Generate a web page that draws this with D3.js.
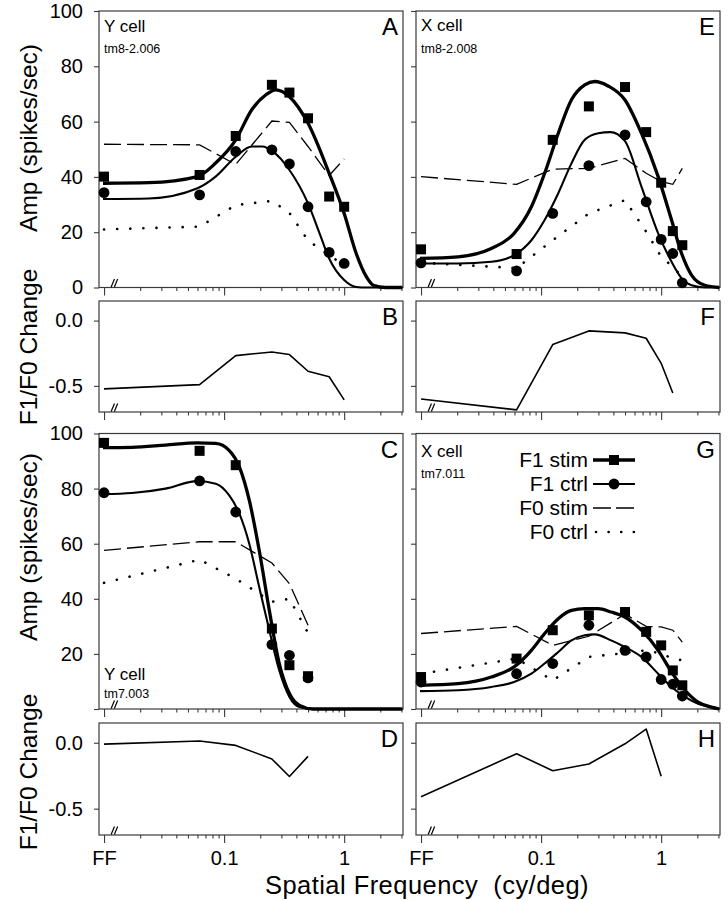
<!DOCTYPE html>
<html><head><meta charset="utf-8">
<script src="https://cdn.jsdelivr.net/npm/d3@7"></script>
<style>
body{margin:0;background:#fff}
svg{display:block}
text{font-family:"Liberation Sans",Arial,Helvetica,sans-serif;fill:#000}
</style>
</head><body>
<svg id="chart" width="728" height="900"></svg>
<script>
// ---------------- DATA ----------------
// spatial frequency (cy/deg); 0.01 is the position of "FF" (full field)
const xTickValues = [0.01, 0.1, 1];
const xTickLabels = ["FF", "0.1", "1"];
const xMinorTicks = [0.02,0.03,0.04,0.05,0.06,0.07,0.08,0.09,0.2,0.3,0.4,0.5,0.6,0.7,0.8,0.9,2,3];
const ampTicks = [0, 20, 40, 60, 80, 100];
const ratioTicks = [0.0, -0.5];
const ratioTickLabels = ["0.0", "-0.5"];
const legendLabels = ["F1 stim", "F1 ctrl", "F0 stim", "F0 ctrl"];

// Panel A (Y cell tm8-2.006)
const freqA   = [0.01, 0.0625, 0.125, 0.25, 0.35, 0.5, 0.75, 1.0];
const f1StimA = [40.1, 40.7, 54.8, 73.3, 70.5, 61.2, 32.9, 29.2];
const f1CtrlA = [34.3, 33.5, 49.2, 49.8, 44.7, 29.2, 12.7, 8.7];
const f0StimA = [51.8, 51.6, 44.5, 60.2, 59.7, 51.0, 40.5, 46.5];
const f0CtrlA = [21.0, 22.0, 29.8, 31.3, 27.0, 17.0, 11.7, 8.0];
const fitStimXA = [0.0098, 0.0236, 0.06, 0.085, 0.125, 0.17, 0.223, 0.27, 0.35, 0.5, 0.75, 1.0, 1.26, 1.53, 1.75, 2.2, 3.05];
const fitStimA  = [37.7, 37.9, 40.1, 45.0, 53.4, 64.3, 69.7, 71.5, 69.0, 59.4, 41.3, 26.8, 12.3, 3.9, 0.8, 0, 0];
const fitCtrlXA = [0.0098, 0.0236, 0.06, 0.085, 0.125, 0.17, 0.209, 0.254, 0.35, 0.5, 0.624, 0.75, 1.0, 1.26, 1.53, 3.05];
const fitCtrlA  = [32.0, 32.2, 35.9, 40.1, 47.3, 51.0, 51.0, 49.2, 42.5, 30.4, 19.6, 10.5, 2.7, 0.2, 0, 0];
// Panel B
const ratioB = [-0.523, -0.49, -0.268, -0.24, -0.26, -0.388, -0.43, -0.607];

// Panel E (X cell tm8-2.008)
const freqE   = [0.01, 0.0625, 0.125, 0.25, 0.5, 0.75, 1.0, 1.25, 1.5];
const f1StimE = [13.8, 12.1, 53.4, 65.5, 72.5, 56.2, 37.9, 20.4, 15.3];
const f1CtrlE = [8.9, 6.0, 26.8, 44.1, 55.2, 31.0, 17.4, 12.3, 1.7];
const f0StimE = [40.1, 37.3, 42.8, 43.1, 46.7, 41.3, 38.3, 37.3, 43.1];
const f0CtrlE = [9.0, 7.0, 17.1, 26.8, 31.6, 20.2, 11.1, 7.5, 3.9];
const fitStimXE = [0.0098, 0.0203, 0.0385, 0.0596, 0.083, 0.107, 0.139, 0.179, 0.231, 0.28, 0.361, 0.498, 0.685, 0.944, 1.22, 1.48, 1.79, 2.31, 3.05];
const fitStimE  = [10.5, 11.1, 14.1, 19.6, 29.2, 41.3, 55.8, 67.9, 73.3, 74.5, 72.9, 67.9, 55.8, 40.1, 24.4, 12.3, 4.5, 0.8, 0];
const fitCtrlXE = [0.0098, 0.0203, 0.0385, 0.0596, 0.083, 0.107, 0.139, 0.179, 0.231, 0.299, 0.378, 0.498, 0.685, 0.944, 1.22, 1.48, 1.79, 2.31, 3.05];
const fitCtrlE  = [8.7, 8.7, 9.3, 11.7, 17.1, 24.4, 34.1, 44.9, 53.4, 55.8, 56.2, 53.0, 36.5, 19.6, 9.3, 3.3, 0.8, 0, 0];
// Panel F
const freqF  = [0.01, 0.0625, 0.125, 0.25, 0.5, 0.75, 1.0, 1.25];
const ratioF = [-0.60, -0.684, -0.184, -0.079, -0.094, -0.135, -0.327, -0.554];

// Panel C (Y cell tm7.003)
const freqC   = [0.01, 0.0625, 0.125, 0.25, 0.35, 0.5];
const f1StimC = [96.6, 93.7, 88.5, 29.2, 15.9, 11.9];
const f1CtrlC = [78.5, 82.8, 71.5, 23.4, 19.5, 11.3];
const f0StimC = [57.6, 60.7, 60.7, 53.0, 45.5, 30.4];
const f0CtrlC = [45.8, 54.2, 47.3, 38.9, 40.0, 27.6];
const fitXC    = [0.0098, 0.0171, 0.0325, 0.0598, 0.0852, 0.110, 0.134, 0.162, 0.196, 0.238, 0.288, 0.35, 0.425, 0.548, 0.805, 1.63, 3.05];
const fitStimC = [94.9, 95.0, 95.8, 96.6, 96.4, 93.9, 87.9, 75.8, 57.6, 35.8, 16.5, 5.6, 1.3, 0, 0, 0, 0];
const fitCtrlC = [78.0, 78.4, 80.0, 82.7, 81.8, 77.6, 70.9, 60.0, 44.3, 28.6, 14.0, 4.4, 0.7, 0, 0, 0, 0];
// Panel D
const freqD  = [0.01, 0.0625, 0.125, 0.25, 0.35, 0.5];
const ratioD = [-0.01, 0.013, -0.02, -0.123, -0.256, -0.103];

// Panel G (X cell tm7.011)
const freqG   = [0.01, 0.0625, 0.125, 0.25, 0.5, 0.75, 1.0, 1.25, 1.5];
const f1StimG = [11.6, 18.3, 28.6, 34.0, 35.2, 28.0, 23.1, 14.0, 8.6];
const f1CtrlG = [9.8, 12.8, 16.5, 30.4, 21.3, 18.9, 10.7, 9.0, 4.7];
const f0StimG = [27.4, 30.0, 23.1, 26.4, 34.4, 30.0, 29.8, 28.6, 24.3];
const f0CtrlG = [12.8, 18.3, 10.4, 18.9, 20.3, 21.3, 20.1, 18.3, 17.7];
const fitStimXG = [0.0098, 0.0203, 0.0385, 0.0596, 0.083, 0.107, 0.139, 0.179, 0.231, 0.299, 0.383, 0.498, 0.685, 0.944, 1.22, 1.58, 2.03, 2.62, 3.05];
const fitStimG  = [8.6, 9.2, 11.6, 15.3, 21.3, 27.4, 32.8, 35.8, 36.4, 36.4, 35.2, 33.4, 28.6, 21.3, 13.4, 6.8, 2.5, 0.7, 0];
const fitCtrlXG = [0.0098, 0.0203, 0.0385, 0.0596, 0.083, 0.107, 0.139, 0.179, 0.231, 0.28, 0.383, 0.498, 0.685, 0.944, 1.22, 1.58, 2.03, 2.62, 3.05];
const fitCtrlG  = [6.5, 6.8, 8.0, 9.8, 12.8, 16.5, 20.7, 24.9, 26.8, 27.1, 24.9, 22.5, 18.9, 12.8, 8.0, 4.4, 1.9, 0.7, 0];
// Panel H
const freqH  = [0.01, 0.0625, 0.125, 0.25, 0.5, 0.75, 1.0];
const ratioH = [-0.41, -0.083, -0.212, -0.161, -0.008, 0.104, -0.254];

// ---------------- LAYOUT ----------------
const svg = d3.select("#chart");
const INK = "#000", FRAME = "#3a3a3a";
const colL = 99, colR = 416, PW = 304;
const rowA = [11, 287.5], rowB = [301, 412], rowC = [433.5, 709], rowD = [723, 835];
const xs = d3.scaleLog().domain([0.00908, 3.09]).range([0, PW]);

function makePanel(x0, row, ydom){
  const h = row[1] - row[0];
  const g = svg.append("g").attr("transform", `translate(${x0},${row[0]})`);
  const y = d3.scaleLinear().domain(ydom).range([h, 0]);
  return {g, h, y};
}

function xAxis(p, withLabels){
  const a = d3.axisBottom(xs).tickValues(xTickValues).tickSize(8).tickPadding(8)
    .tickFormat((d, i) => withLabels ? xTickLabels[i] : "");
  const ga = p.g.append("g").attr("transform", `translate(0,${p.h})`).call(a);
  ga.select(".domain").remove();
  ga.selectAll("line").attr("stroke", FRAME).attr("stroke-width", 1.1);
  ga.selectAll("text").attr("font-size", 20).attr("fill", INK);
  const m = d3.axisBottom(xs).tickValues(xMinorTicks.filter(v => v < xs.domain()[1])).tickSize(3.5).tickFormat("");
  const gm = p.g.append("g").attr("transform", `translate(0,${p.h})`).call(m);
  gm.select(".domain").remove();
  gm.selectAll("line").attr("stroke", FRAME).attr("stroke-width", 1.1);
}

function yAxis(p, vals, fmt){
  const a = d3.axisLeft(p.y).tickValues(vals).tickSize(5).tickPadding(11).tickFormat(fmt);
  const ga = p.g.append("g").call(a);
  ga.select(".domain").remove();
  ga.selectAll("line").attr("stroke", FRAME).attr("stroke-width", 1.1);
  ga.selectAll("text").attr("font-size", 20).attr("fill", INK);
}

function frame(p){
  p.g.append("rect").attr("x", 0).attr("y", 0).attr("width", PW).attr("height", p.h)
    .attr("fill", "none").attr("stroke", FRAME).attr("stroke-width", 1.2);
  // axis break marks "//"
  const bx = xs(0.0118);
  [0, 3.2].forEach(dx => {
    p.g.append("line").attr("x1", bx + dx - 1.5).attr("y1", p.h - 0.5)
      .attr("x2", bx + dx + 1.8).attr("y2", p.h - 8.5)
      .attr("stroke", INK).attr("stroke-width", 1.2);
  });
}

function letter(p, L){
  p.g.append("text").attr("x", PW - 5).attr("y", 24).attr("text-anchor", "end")
    .attr("font-size", 24).text(L);
}

function cellLabel(p, name, id, yName, yId){
  p.g.append("text").attr("x", 5).attr("y", yName).attr("font-size", 17).text(name);
  p.g.append("text").attr("x", 5).attr("y", yId).attr("font-size", 12.5).text(id);
}

const lineGen = (p) => d3.line().x(d => xs(d[0])).y(d => p.y(d[1]));

function pts(xa, ya){ return xa.map((x, i) => [x, ya[i]]); }

function ampPanel(x0, row, d){
  const p = makePanel(x0, row, [0, 100]);
  frame(p);
  xAxis(p, false);
  yAxis(p, ampTicks, d.yLabels ? (v => (v === 0 && !d.zero) ? "" : String(v)) : "");
  // F0 stim dashed
  p.g.append("path").datum(pts(d.freq, d.f0s)).attr("d", lineGen(p))
    .attr("fill", "none").attr("stroke", INK).attr("stroke-width", 1.3).attr("stroke-dasharray", "17,6");
  // F0 ctrl dotted
  p.g.append("path").datum(pts(d.freq, d.f0c)).attr("d", lineGen(p))
    .attr("fill", "none").attr("stroke", INK).attr("stroke-width", 2.6)
    .attr("stroke-linecap", "round").attr("stroke-dasharray", "0.1,13");
  // fits
  const smooth = d3.line().x(q => xs(q[0])).y(q => p.y(q[1])).curve(d3.curveMonotoneX);
  p.g.append("path").datum(pts(d.fitCX, d.fitC)).attr("d", smooth)
    .attr("fill", "none").attr("stroke", INK).attr("stroke-width", 2.1);
  p.g.append("path").datum(pts(d.fitSX, d.fitS)).attr("d", smooth)
    .attr("fill", "none").attr("stroke", INK).attr("stroke-width", 3.3);
  // markers
  p.g.selectAll(".sq").data(pts(d.freq, d.f1s)).join("rect")
    .attr("x", q => xs(q[0]) - 5).attr("y", q => p.y(q[1]) - 5)
    .attr("width", 10).attr("height", 10).attr("fill", INK);
  p.g.selectAll(".ci").data(pts(d.freq, d.f1c)).join("circle")
    .attr("cx", q => xs(q[0])).attr("cy", q => p.y(q[1])).attr("r", 5.4).attr("fill", INK);
  return p;
}

function ratioPanel(x0, row, freq, ratio, yLabels, xLabels){
  const p = makePanel(x0, row, [-0.7, 0.15]);
  frame(p);
  xAxis(p, xLabels);
  yAxis(p, ratioTicks, yLabels ? ((v, i) => ratioTickLabels[i]) : "");
  p.g.append("path").datum(pts(freq, ratio)).attr("d", lineGen(p))
    .attr("fill", "none").attr("stroke", INK).attr("stroke-width", 1.6).attr("stroke-linejoin", "round");
  return p;
}

// ---------------- DRAW ----------------
const pA = ampPanel(colL, rowA, {freq: freqA, f1s: f1StimA, f1c: f1CtrlA, f0s: f0StimA, f0c: f0CtrlA,
  fitSX: fitStimXA, fitS: fitStimA, fitCX: fitCtrlXA, fitC: fitCtrlA, yLabels: true, zero: true});
letter(pA, "A"); cellLabel(pA, "Y cell", "tm8-2.006", 21, 42);

const pB = ratioPanel(colL, rowB, freqA, ratioB, true, false); letter(pB, "B");

const pC = ampPanel(colL, rowC, {freq: freqC, f1s: f1StimC, f1c: f1CtrlC, f0s: f0StimC, f0c: f0CtrlC,
  fitSX: fitXC, fitS: fitStimC, fitCX: fitXC, fitC: fitCtrlC, yLabels: true, zero: false});
letter(pC, "C"); cellLabel(pC, "Y cell", "tm7.003", 246.5, 264.5);

const pD = ratioPanel(colL, rowD, freqD, ratioD, true, true); letter(pD, "D");

const pE = ampPanel(colR, rowA, {freq: freqE, f1s: f1StimE, f1c: f1CtrlE, f0s: f0StimE, f0c: f0CtrlE,
  fitSX: fitStimXE, fitS: fitStimE, fitCX: fitCtrlXE, fitC: fitCtrlE, yLabels: false});
letter(pE, "E"); cellLabel(pE, "X cell", "tm8-2.008", 20, 42);

const pF = ratioPanel(colR, rowB, freqF, ratioF, false, false); letter(pF, "F");

const pG = ampPanel(colR, rowC, {freq: freqG, f1s: f1StimG, f1c: f1CtrlG, f0s: f0StimG, f0c: f0CtrlG,
  fitSX: fitStimXG, fitS: fitStimG, fitCX: fitCtrlXG, fitC: fitCtrlG, yLabels: false});
letter(pG, "G"); cellLabel(pG, "X cell", "tm7.011", 23, 44);

const pH = ratioPanel(colR, rowD, freqH, ratioH, false, true); letter(pH, "H");

// legend in G
const lg = svg.append("g");
legendLabels.forEach((lab, i) => {
  const by = 467 + i * 24;
  lg.append("text").attr("x", 588).attr("y", by).attr("text-anchor", "end").attr("font-size", 21).text(lab);
  const ly = by - 7;
  const ln = lg.append("line").attr("x1", 593).attr("x2", 635).attr("y1", ly).attr("y2", ly).attr("stroke", INK);
  if (i === 0) { ln.attr("stroke-width", 3.3); lg.append("rect").attr("x", 609).attr("y", ly - 5).attr("width", 10).attr("height", 10).attr("fill", INK); }
  if (i === 1) { ln.attr("stroke-width", 2.1); lg.append("circle").attr("cx", 614).attr("cy", ly).attr("r", 5.4).attr("fill", INK); }
  if (i === 2) { ln.attr("stroke-width", 1.3).attr("stroke-dasharray", "18,5"); }
  if (i === 3) { ln.attr("x1", 596).attr("stroke-width", 2.6).attr("stroke-linecap", "round").attr("stroke-dasharray", "0.1,12.5"); }
});

// axis titles
function vlabel(txt, cy){
  svg.append("text").attr("transform", `translate(37,${cy}) rotate(-90)`)
    .attr("text-anchor", "middle").attr("font-size", 24.5).text(txt);
}
vlabel("Amp (spikes/sec)", 138);
vlabel("F1/F0 Change", 347);
vlabel("Amp (spikes/sec)", 547);
vlabel("F1/F0 Change", 772);
svg.append("text").attr("x", 265).attr("y", 893.5).attr("font-size", 25.5)
  .attr("letter-spacing", 0.45)
  .attr("xml:space", "preserve").style("white-space", "pre").text("Spatial Frequency  (cy/deg)");
</script>
</body></html>
